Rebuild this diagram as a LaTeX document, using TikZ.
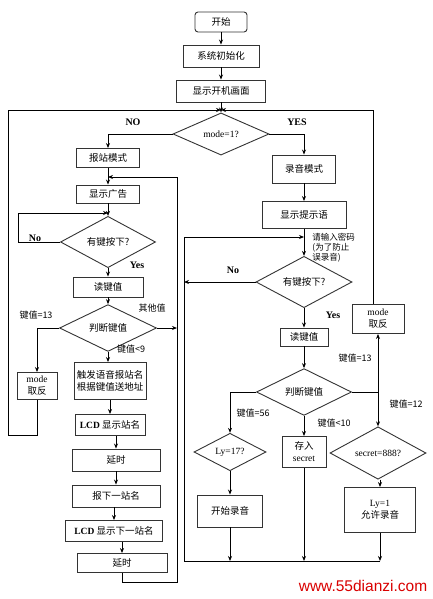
\documentclass[tikz,border=0pt]{standalone}
\usepackage{fontspec}
\setmainfont{Liberation Serif}
\newfontfamily\cjk{Noto Sans CJK SC}
\newfontfamily\webfont{Liberation Sans}
\usetikzlibrary{arrows.meta, positioning, calc, shapes.geometric}

\begin{document}
\begin{tikzpicture}[
    x=1pt, y=-1pt,
    >={Stealth[length=5pt, width=4pt]},
    every path/.style={line width=0.8pt},
    % boxes, decisions and labels
    box/.style={rectangle, draw=black!80, line width=0.9pt, inner sep=1pt, align=center, font=\cjk\fontsize{9.5}{12}\selectfont},
    startbox/.style={box, rounded corners=3pt},
    dec/.style={diamond, draw=black!80, line width=0.9pt, inner sep=0pt, align=center, font=\fontsize{9.5}{11}\selectfont},
    lbl/.style={font=\cjk\fontsize{9}{11}\selectfont, inner sep=1pt},
    yn/.style={font=\bfseries\fontsize{10}{12}\selectfont, inner sep=1pt}
]
    \useasboundingbox (0,0) rectangle (433,599);

    % --- Start and init ---
    \node[startbox, minimum width=52pt, minimum height=20pt] (start) at (221,22) {开始};
    \node[box, minimum width=76pt, minimum height=22pt] (init) at (221,56) {系统初始化};
    \node[box, minimum width=89pt, minimum height=22pt] (boot) at (221,91) {显示开机画面};
    \coordinate (top) at (221,110);
    \node[dec, minimum width=96pt, minimum height=28pt] (mode) at (221,134) {mode=1?};
    \node[yn] at (133,122) {NO};
    \node[yn] at (297,122) {YES};

    \draw[->] (start) -- (init);
    \draw[->] (init) -- (boot);
    \draw[->] (boot) -- (mode);

    % --- Left column (NO) ---
    \node[box, minimum width=63pt, minimum height=19pt] (bz) at (108,158) {报站模式};
    \coordinate (adin) at (108,177);
    \node[box, minimum width=63pt, minimum height=18pt] (ad) at (108,194) {显示广告};
    \coordinate (kin) at (108,213);
    \node[dec, minimum width=95pt, minimum height=28pt] (key1) at (108,242) {\cjk 有键按下?};
    \coordinate (noL) at (18,242);
    \node[yn] at (35,238) {No};
    \node[yn] at (137,265) {Yes};
    \node[box, minimum width=70pt, minimum height=20pt] (read1) at (108,287) {读键值};
    \node[dec, minimum width=97pt, minimum height=27pt] (judge1) at (108,328) {\cjk 判断键值};
    \node[lbl] at (36,315) {键值=13};
    \node[lbl] at (152,308) {其他值};
    \node[lbl] at (131,349) {键值<9};
    \node[box, minimum width=40pt, minimum height=27pt] (modeL) at (37,386) {{\rmfamily mode}\\取反};
    \coordinate (leftbus) at (8,435);
    \node[box, minimum width=72pt, minimum height=37pt] (trig) at (110,381) {触发语音报站名\\根据键值送地址};
    \node[box, minimum width=70pt, minimum height=21pt] (lcd1) at (110,425) {{\rmfamily\bfseries LCD} 显示站名};
    \node[box, minimum width=88pt, minimum height=22pt] (delay1) at (116,460) {延时};
    \node[box, minimum width=88pt, minimum height=22pt] (next) at (116,496) {报下一站名};
    \node[box, minimum width=97pt, minimum height=21pt] (lcd2) at (114,531) {{\rmfamily\bfseries LCD} 显示下一站名};
    \node[box, minimum width=90pt, minimum height=19pt] (delay2) at (122,563) {延时};
    \coordinate (rloop) at (177,582);

    \draw[->] (mode.west) -| (bz.north);
    \draw[->] (bz) -- (ad);
    \draw[->] (ad) -- (key1);
    \draw[->] (key1.west) -- (noL) |- (kin);
    \draw[->] (key1) -- (read1);
    \draw[->] (read1) -- (judge1);
    \draw[->] (judge1.west) -| (modeL.north);
    \draw[->] (judge1.east) -- (judge1.east -| rloop);
    \draw[->] (judge1) -- (judge1 |- trig.north);
    \draw[->] (trig.south -| lcd1) -- (lcd1);
    \draw[->] (lcd1.south -| delay1) -- (delay1);
    \draw[->] (delay1) -- (next);
    \draw[->] (next.south -| lcd2) -- (lcd2);
    \draw[->] (lcd2.south -| delay2) -- (delay2);
    \draw[->] (modeL.south) |- (leftbus) |- (top);
    \draw[->] (delay2.south) |- (rloop) |- (adin);

    % --- Right column (YES) ---
    \node[box, minimum width=63pt, minimum height=28pt] (rec) at (304,169) {录音模式};
    \node[box, minimum width=84pt, minimum height=27pt] (tip) at (304,215) {显示提示语};
    \coordinate (kin2) at (304,237);
    \node[lbl, anchor=west, align=left, font=\cjk\fontsize{8.5}{10}\selectfont] (hint) at (311,248) {请输入密码\\(为了防止\\误录音)};
    \node[dec, minimum width=96pt, minimum height=28pt] (key2) at (304,282) {\cjk 有键按下?};
    \node[yn] at (233,270) {No};
    \node[yn] at (333,315) {Yes};
    \node[box, minimum width=48pt, minimum height=18pt] (read2) at (304,337) {读键值};
    \node[dec, minimum width=95pt, minimum height=25pt] (judge2) at (304,392) {\cjk 判断键值};
    \node[box, minimum width=52pt, minimum height=29pt] (modeR) at (378,319) {{\rmfamily mode}\\取反};
    \coordinate (rcol) at (378,392);
    \node[lbl] at (355,358) {键值=13};
    \node[lbl] at (406,404) {键值=12};
    \node[lbl] at (253,413) {键值=56};
    \node[lbl] at (334,423) {键值<10};
    \node[dec, minimum width=72pt, minimum height=23pt] (ly17) at (230,452) {Ly=17?};
    \node[box, minimum width=44pt, minimum height=31pt] (store) at (304,452) {存入\\{\rmfamily secret}};
    \node[dec, minimum width=96pt, minimum height=26pt] (sec) at (378,453) {secret=888?};
    \node[box, minimum width=65pt, minimum height=32pt] (startrec) at (230,511) {开始录音};
    \node[box, minimum width=71pt, minimum height=45pt] (ly1) at (380,510) {{\rmfamily Ly=1}\\允许录音};
    \coordinate (rbus) at (184,561);

    \draw[->] (mode.east) -| (rec.north);
    \draw[->] (rec) -- (tip);
    \draw[->] (tip) -- (key2);
    \draw[->] (key2.west) -- (key2.west -| rbus);
    \draw[->] (key2) -- (read2);
    \draw[->] (read2) -- (judge2);
    \draw[->] (judge2.west) -| (ly17.north);
    \draw[->] (judge2) -- (store);
    \draw (judge2.east) -- (rcol);
    \draw[->] (rcol) -- (modeR);
    \draw[->] (rcol) -- (sec);
    \draw[->] (modeR.north -| 373,0) |- (top);
    \draw[->] (ly17) -- (startrec);
    \draw[->] (sec.south -| ly1) -- (ly1);
    \draw[->] (startrec.south) -- (startrec.south |- rbus);
    \draw[->] (store.south) -- (store.south |- rbus);
    \draw[->] (ly1.south) -- (ly1.south |- rbus);
    \draw[->] (ly1.south |- rbus) -- (rbus) |- (kin2);

    % --- Watermark ---
    \node[text=red!85!black, font=\webfont\fontsize{15.5}{18}\selectfont, inner sep=0pt] (web) at (363,586) {www.55dianzi.com};

\end{tikzpicture}
\end{document}
